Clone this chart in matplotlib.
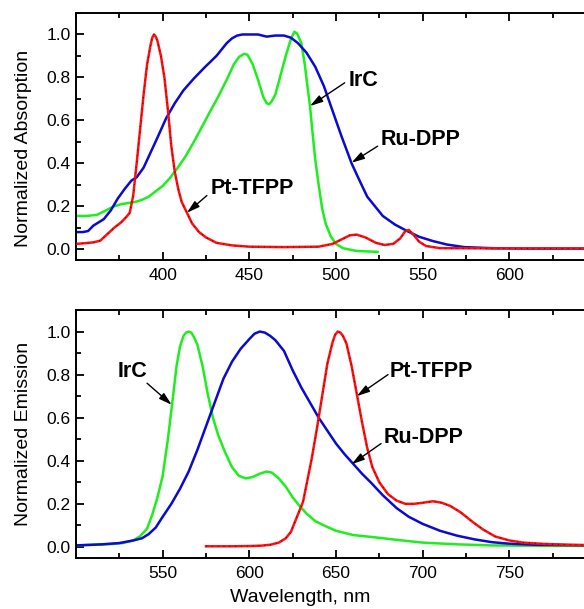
import matplotlib
matplotlib.use("Agg")
import matplotlib.pyplot as plt
from matplotlib.ticker import MultipleLocator, FixedLocator

plt.rcParams['font.family'] = ['Liberation Sans', 'DejaVu Sans']

# ---------------- Absorption (top panel) ----------------
abs_pt_wl = [350, 355, 360, 364, 368, 372, 376, 379, 381, 383, 385, 387, 389, 391, 393, 394, 395, 396,
             397, 399, 401, 403, 405, 407, 409, 411, 414, 417, 421, 425, 431, 440, 450, 470, 490,
             498, 503, 508, 512, 517, 523, 528, 533, 537, 540, 542, 545, 548, 552, 560, 600, 650]
abs_pt_val = [0.025, 0.028, 0.032, 0.04, 0.07, 0.10, 0.125, 0.15, 0.17, 0.25, 0.40, 0.56, 0.72, 0.86, 0.95,
              0.985, 1.0, 0.99, 0.97, 0.90, 0.80, 0.65, 0.48, 0.36, 0.28, 0.22, 0.17, 0.12, 0.08, 0.055,
              0.03, 0.018, 0.012, 0.01, 0.012, 0.025, 0.045, 0.065, 0.068, 0.055, 0.03, 0.02, 0.025,
              0.05, 0.085, 0.09, 0.065, 0.035, 0.015, 0.005, 0.004, 0.004]

abs_ru_wl = [350, 354, 357, 360, 363, 366, 370, 374, 378, 382, 385, 389, 393, 397, 402, 407, 412, 418,
             424, 431, 434, 437, 440, 443, 446, 450, 455, 460, 465, 470, 474, 478, 483, 488, 493, 498,
             503, 509, 513, 518, 523, 527, 534, 541, 548, 556, 564, 574, 590, 610, 650]
abs_ru_val = [0.08, 0.08, 0.085, 0.11, 0.125, 0.14, 0.18, 0.235, 0.28, 0.32, 0.335, 0.38, 0.45, 0.52,
              0.61, 0.68, 0.74, 0.795, 0.845, 0.90, 0.93, 0.96, 0.982, 0.995, 1.0, 1.0, 1.0, 0.99,
              0.995, 0.995, 0.985, 0.96, 0.915, 0.85, 0.76, 0.645, 0.53, 0.40, 0.33, 0.245, 0.195,
              0.155, 0.115, 0.085, 0.058, 0.038, 0.022, 0.01, 0.005, 0.003, 0.003]

abs_ir_wl = [350, 356, 362, 367, 372, 376, 380, 384, 388, 392, 396, 400, 404, 408, 413, 418, 423, 427,
             432, 437, 441, 444, 447, 449, 452, 455, 458, 460, 461.5, 463, 465, 468, 471, 474, 476,
             477.5, 480, 482, 483.5, 485, 486.5, 488, 490, 492, 494, 497, 500, 504, 512, 524]
abs_ir_val = [0.155, 0.155, 0.16, 0.18, 0.20, 0.21, 0.215, 0.22, 0.23, 0.245, 0.27, 0.295, 0.33, 0.372,
              0.43, 0.50, 0.575, 0.636, 0.71, 0.79, 0.86, 0.895, 0.91, 0.905, 0.86, 0.79, 0.71, 0.68,
              0.675, 0.69, 0.72, 0.81, 0.90, 0.98, 1.013, 1.005, 0.96, 0.86, 0.76, 0.667, 0.54, 0.42,
              0.30, 0.19, 0.12, 0.06, 0.025, 0.005, -0.008, -0.012]

# ---------------- Emission (bottom panel) ----------------
em_ir_wl = [500, 510, 520, 527, 533, 537, 541, 544, 547, 550, 553, 556, 558, 560, 562, 563.5, 565, 566.5,
            568, 570, 573, 576, 579, 582, 586, 590, 594, 598, 602, 606, 610, 613, 617, 621, 625, 629,
            633, 638, 643, 650, 660, 672, 685, 700, 720, 740, 770, 800]
em_ir_val = [0.007, 0.01, 0.013, 0.018, 0.03, 0.05, 0.085, 0.15, 0.23, 0.33, 0.50, 0.70, 0.84, 0.93,
             0.98, 0.995, 1.0, 0.995, 0.975, 0.94, 0.84, 0.71, 0.60, 0.52, 0.44, 0.37, 0.33, 0.318,
             0.325, 0.34, 0.35, 0.345, 0.318, 0.28, 0.23, 0.19, 0.155, 0.12, 0.10, 0.075, 0.055,
             0.045, 0.033, 0.02, 0.012, 0.007, 0.005, 0.005]

em_ru_wl = [500, 515, 525, 533, 538, 542, 546, 550, 555, 560, 565, 570, 575, 580, 585, 590, 595, 600,
            603, 606, 609, 612, 615, 620, 625, 630, 635, 640, 645, 650, 655, 660, 665, 670, 677, 685,
            692, 700, 710, 720, 730, 740, 750, 765, 800]
em_ru_val = [0.007, 0.012, 0.018, 0.03, 0.04, 0.06, 0.09, 0.14, 0.20, 0.27, 0.35, 0.45, 0.56, 0.67,
             0.78, 0.86, 0.92, 0.965, 0.99, 1.0, 0.995, 0.98, 0.96, 0.91, 0.82, 0.74, 0.67, 0.60,
             0.54, 0.48, 0.43, 0.385, 0.34, 0.30, 0.24, 0.18, 0.14, 0.107, 0.075, 0.052, 0.035, 0.022,
             0.015, 0.01, 0.007]

em_pt_wl = [575, 590, 600, 607, 612, 617, 621, 624, 627, 629, 631, 633, 636, 639, 642, 645, 648, 649.5,
            651, 652.5, 654, 656, 659, 662, 665, 668, 671, 675, 680, 685, 690, 695, 700, 706, 711, 716,
            722, 729, 735, 742, 750, 758, 770, 785, 800]
em_pt_val = [0.003, 0.003, 0.004, 0.006, 0.01, 0.02, 0.04, 0.07, 0.13, 0.17, 0.21, 0.29, 0.41, 0.55, 0.70,
             0.85, 0.95, 0.985, 1.0, 0.995, 0.98, 0.945, 0.84, 0.71, 0.58, 0.46, 0.37, 0.30, 0.245,
             0.215, 0.20, 0.20, 0.205, 0.212, 0.205, 0.19, 0.16, 0.115, 0.08, 0.048, 0.03, 0.02, 0.014,
             0.01, 0.008]

RED = '#ff1010'
BLUE = '#0a0ad2'
GREEN = '#1eee1e'

fig = plt.figure(figsize=(5.84, 6.09), dpi=100)
W, H = 584, 609
ax1 = fig.add_axes([76 / W, 1 - 260 / H, (596 - 76) / W, (260 - 13) / H])
ax2 = fig.add_axes([76 / W, 1 - 557.7 / H, (596 - 76) / W, (557.7 - 310) / H])


def red_line(ax, x, y):
    ax.plot(x, y, color=RED, lw=1.8, zorder=3)
    ax.plot(x, y, color='#500000', lw=0.7, ls=(0, (1, 5)), zorder=3.1)


ax1.plot(abs_ir_wl, abs_ir_val, color=GREEN, lw=1.8, zorder=2)
ax1.plot(abs_ru_wl, abs_ru_val, color=BLUE, lw=1.8, zorder=2.5)
red_line(ax1, abs_pt_wl, abs_pt_val)

ax2.plot(em_ir_wl, em_ir_val, color=GREEN, lw=1.8, zorder=2)
ax2.plot(em_ru_wl, em_ru_val, color=BLUE, lw=1.8, zorder=2.5)
red_line(ax2, em_pt_wl, em_pt_val)

ax1.set_xlim(350, 650)
ax2.set_xlim(500, 800)
for ax in (ax1, ax2):
    ax.set_ylim(-0.05, 1.1)
    ax.yaxis.set_major_locator(FixedLocator([0.0, 0.2, 0.4, 0.6, 0.8, 1.0]))
    ax.yaxis.set_minor_locator(MultipleLocator(0.1))
    ax.xaxis.set_major_locator(MultipleLocator(50))
    ax.xaxis.set_minor_locator(MultipleLocator(25))
    ax.yaxis.set_major_formatter(matplotlib.ticker.FormatStrFormatter('%.1f'))
    ax.tick_params(which='both', direction='in', top=True, right=False, width=1.3,
                   labelsize=12.5, colors='black')
    ax.tick_params(which='major', length=6)
    ax.tick_params(which='minor', length=3.5)
    ax.tick_params(axis='y', pad=4)
    ax.tick_params(axis='x', pad=6)
    for s in ax.spines.values():
        s.set_linewidth(1.4)

ax1.set_xticks([400, 450, 500, 550, 600])
ax1.set_xticklabels(['400', '450', '500', '550', '600'])
ax2.set_xticks([550, 600, 650, 700, 750])
ax2.set_xticklabels(['550', '600', '650', '700', '750'])

ax1.set_ylabel('Normalized Absorption', fontsize=14)
ax2.set_ylabel('Normalized Emission', fontsize=14)
ax1.yaxis.set_label_coords(-0.085, 0.45)
ax2.yaxis.set_label_coords(-0.085, 0.5)
fig.text(300 / W, 1 - 598 / H, 'Wavelength, nm', fontsize=14, ha='center', va='center')

arrow = dict(arrowstyle='-|>,head_length=0.55,head_width=0.16', color='black', lw=1.0,
             shrinkA=0, shrinkB=0, mutation_scale=14)
tk = dict(fontsize=15.5, fontweight='bold', ha='left', va='center')

# top annotations
ax1.text(507, 0.785, 'IrC', **tk)
ax1.annotate('', xy=(485, 0.667), xytext=(505, 0.775), arrowprops=arrow)
ax1.text(526, 0.51, 'Ru-DPP', **tk)
ax1.annotate('', xy=(509, 0.403), xytext=(524, 0.48), arrowprops=arrow)
ax1.text(427.5, 0.285, 'Pt-TFPP', **tk)
ax1.annotate('', xy=(414, 0.17), xytext=(425.5, 0.25), arrowprops=arrow)

# bottom annotations
ax2.text(524.2, 0.815, 'IrC', **tk)
ax2.annotate('', xy=(555.2, 0.66), xytext=(541, 0.76), arrowprops=arrow)
ax2.text(681.2, 0.815, 'Pt-TFPP', **tk)
ax2.annotate('', xy=(662, 0.70), xytext=(680, 0.80), arrowprops=arrow)
ax2.text(677.7, 0.507, 'Ru-DPP', **tk)
ax2.annotate('', xy=(659, 0.384), xytext=(676, 0.48), arrowprops=arrow)

fig.savefig('out.png', dpi=100)
